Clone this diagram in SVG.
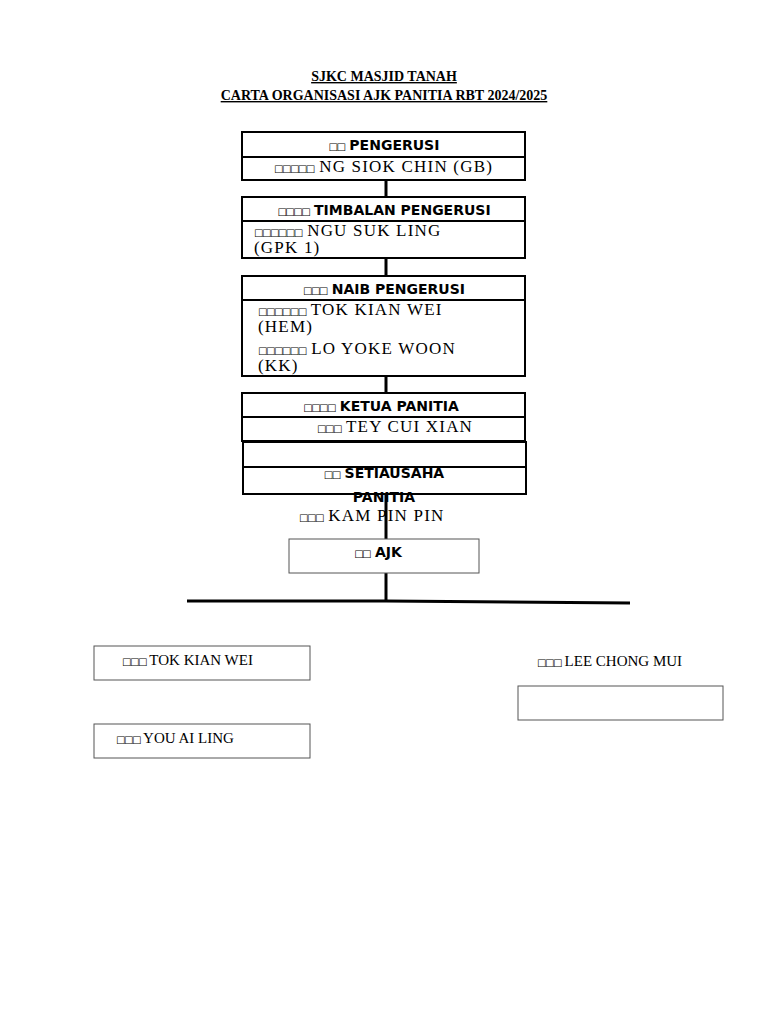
<svg xmlns="http://www.w3.org/2000/svg" width="768" height="1024" viewBox="0 0 768 1024">
<style>
.b{fill:#fff;stroke:#000;stroke-width:2}
.g{fill:#fff;stroke:#555;stroke-width:1}
.t{font-family:"Liberation Serif",serif;font-weight:bold;font-size:14px;text-decoration:underline}
.h{font-family:"DejaVu Sans",sans-serif;font-weight:bold;font-size:14px}
.n{font-family:"Liberation Serif",serif;font-size:17px;letter-spacing:1.2px}
.s{font-family:"Liberation Serif",serif;font-size:15px}
.q{font-family:"DejaVu Sans",sans-serif;font-size:10px;letter-spacing:-1.5px;font-weight:normal}
.c{stroke:#000;stroke-width:3;fill:none}
</style>
<rect width="768" height="1024" fill="#fff"/>
<text class="t" x="384" y="81" text-anchor="middle">SJKC MASJID TANAH</text>
<text class="t" x="384" y="100" text-anchor="middle">CARTA ORGANISASI AJK PANITIA RBT 2024/2025</text>
<g id="connectors">
<line class="c" x1="386" y1="180" x2="386" y2="198"/>
<line class="c" x1="386" y1="258" x2="386" y2="277"/>
<line class="c" x1="386" y1="376" x2="386" y2="394"/>
<line class="c" x1="386" y1="494" x2="386" y2="540"/>
<line class="c" x1="386" y1="573" x2="386" y2="601"/>
<path class="c" d="M187 601 L386 601 L630 603"/>
</g>
<g id="pengerusi">
<rect class="b" x="242" y="132" width="283" height="48"/>
<line class="b" x1="242" y1="157" x2="525" y2="157"/>
<text class="h" x="384" y="150" text-anchor="middle"><tspan class="q">□□</tspan> PENGERUSI</text>
<text class="n" x="274" y="172"><tspan class="q">□□□□□</tspan> NG SIOK CHIN (GB)</text>
</g>
<g id="timbalan">
<rect class="b" x="242" y="197" width="283" height="61"/>
<line class="b" x1="242" y1="221" x2="525" y2="221"/>
<text class="h" x="384" y="215" text-anchor="middle"><tspan class="q">□□□□</tspan>  TIMBALAN  PENGERUSI</text>
<text class="n" x="254" y="236"><tspan class="q">□□□□□□</tspan> NGU SUK LING</text>
<text class="n" x="254" y="253">(GPK 1)</text>
</g>
<g id="naib">
<rect class="b" x="242" y="276" width="283" height="100"/>
<line class="b" x1="242" y1="300" x2="525" y2="300"/>
<text class="h" x="384" y="294" text-anchor="middle"><tspan class="q">□□□</tspan> NAIB PENGERUSI</text>
<text class="n" x="258" y="315"><tspan class="q">□□□□□□</tspan> TOK KIAN WEI</text>
<text class="n" x="258" y="332">(HEM)</text>
<text class="n" x="258" y="354"><tspan class="q">□□□□□□</tspan> LO YOKE WOON</text>
<text class="n" x="258" y="371">(KK)</text>
</g>
<g id="ketua">
<rect class="b" x="242" y="393" width="283" height="48"/>
<line class="b" x1="242" y1="417" x2="525" y2="417"/>
<text class="h" x="381" y="411" text-anchor="middle"><tspan class="q">□□□□</tspan> KETUA PANITIA</text>
<text class="n" x="317" y="432"><tspan class="q">□□□</tspan> TEY CUI XIAN</text>
</g>
<g id="setiausaha">
<rect class="b" x="243" y="442" width="283" height="52"/>
<line class="b" x1="243" y1="467" x2="526" y2="467"/>
<text class="h" x="384" y="478" text-anchor="middle"><tspan class="q">□□</tspan> SETIAUSAHA</text>
<text class="h" x="384" y="502" text-anchor="middle">PANITIA</text>
<text class="n" x="299" y="521"><tspan class="q">□□□</tspan> KAM PIN PIN</text>
</g>
<g id="ajk">
<rect class="g" x="289" y="539" width="190" height="34"/>
<text class="h" x="378" y="557" text-anchor="middle"><tspan class="q">□□</tspan> AJK</text>
</g>
<g id="tok">
<rect class="g" x="94" y="646" width="216" height="34"/>
<text class="s" x="122" y="665"><tspan class="q">□□□</tspan> TOK KIAN WEI</text>
</g>
<g id="you">
<rect class="g" x="94" y="724" width="216" height="34"/>
<text class="s" x="116" y="743"><tspan class="q">□□□</tspan> YOU AI LING</text>
</g>
<g id="lee">
<text class="s" x="537" y="666"><tspan class="q">□□□</tspan> LEE CHONG MUI</text>
<rect class="g" x="518" y="686" width="205" height="34"/>
</g>
</svg>
